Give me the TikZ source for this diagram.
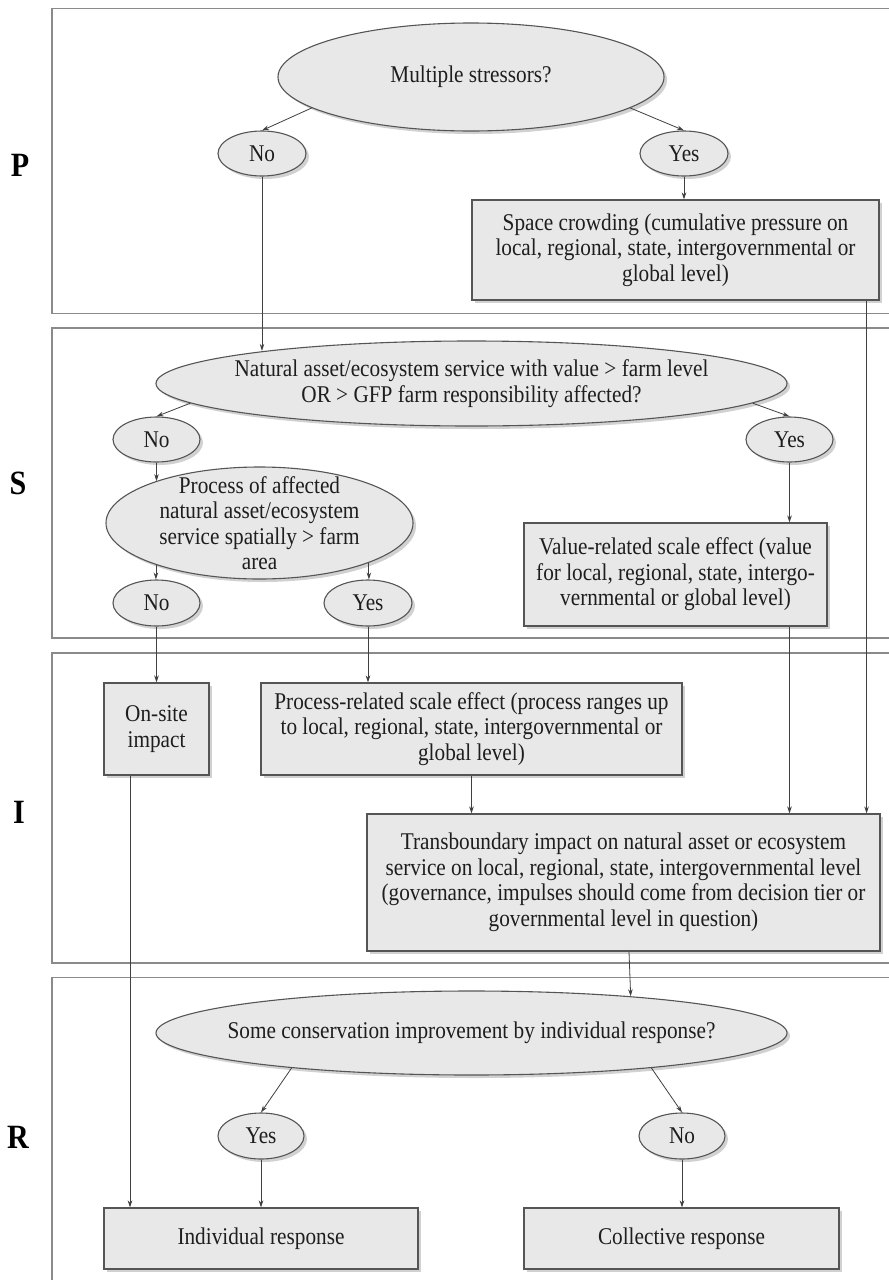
\documentclass[tikz,border=0pt]{standalone}
\usepackage{fontspec}
\setmainfont{Liberation Serif}[FakeStretch=0.885]
\usetikzlibrary{shapes.geometric,arrows.meta,shadows}
\definecolor{fillc}{HTML}{E8E8E8}
\definecolor{bordc}{HTML}{555555}
\definecolor{linec}{HTML}{404040}
\definecolor{panelc}{HTML}{8A8A8A}
\definecolor{textc}{HTML}{1E1E1E}
\newcommand\mainfs{\fontsize{24}{25.5}\selectfont}
\newcommand\labfs{\fontsize{34}{34}\selectfont\bfseries}
\begin{document}
\begin{tikzpicture}[x=1pt,y=-1pt,
  shad/.style={drop shadow={shadow xshift=3pt,shadow yshift=-3pt,opacity=0.18,fill=black}},
  ell/.style={ellipse, draw=bordc, line width=1.1pt, fill=fillc, inner xsep=-300pt, inner ysep=-100pt, font=\mainfs, align=center, text=textc, shad},
  box/.style={rectangle, draw=bordc, line width=1.1pt, fill=fillc, inner sep=2pt, font=\mainfs, align=center, text=textc, shad},
  conn/.style={draw=linec, line width=0.8pt, -{Stealth[length=7pt,width=4.5pt]}},
  panel/.style={draw=panelc, line width=1.3pt},
  lab/.style={font=\labfs, text=black}
]
\useasboundingbox (0,0) rectangle (889,1280);
\clip (0,0) rectangle (889,1280);
\fill[white] (0,0) rectangle (889,1280);

% panels
\draw[panel] (52,8.5) rectangle (905,313.5);
\draw[panel] (52,328) rectangle (905,638);
\draw[panel] (52,653) rectangle (905,963);
\draw[panel] (52,977.5) rectangle (905,1295);

% labels
\node[lab] (lP) at (20,165) {P};
\node[lab] (lS) at (18,483) {S};
\node[lab] (lI) at (19,812) {I};
\node[lab] (lR) at (18,1137) {R};

% P
\node[ell, minimum width=386pt, minimum height=108pt] (ms) at (471,77) {Multiple stressors?};
\node[ell, minimum width=88pt, minimum height=45pt] (pno) at (262,153.5) {No};
\node[ell, minimum width=88pt, minimum height=45pt] (pyes) at (684,153.5) {Yes};
\node[box, minimum width=407pt, minimum height=100pt] (space) at (675.5,250) {Space crowding (cumulative pressure on\\local, regional, state, intergovernmental or\\global level)};

% S
\node[ell, minimum width=631pt, minimum height=85pt] (sq) at (471.5,383.5) {Natural asset/ecosystem service with value > farm level\\OR > GFP farm responsibility affected?};
\node[ell, minimum width=87pt, minimum height=45pt] (sno) at (156.5,439.5) {No};
\node[ell, minimum width=87pt, minimum height=45pt] (syes) at (789.5,439.5) {Yes};
\node[ell, minimum width=307pt, minimum height=112pt] (proc) at (259.5,523) {Process of affected\\natural asset/ecosystem\\service spatially > farm\\area};
\node[ell, minimum width=87pt, minimum height=46pt] (sno2) at (156.5,603) {No};
\node[ell, minimum width=88pt, minimum height=46pt] (syes2) at (368,603) {Yes};
\node[box, minimum width=303pt, minimum height=103pt] (value) at (675.5,574.5) {Value-related scale effect (value\\for local, regional, state, intergo-\\vernmental or global level)};

% I
\node[box, minimum width=105pt, minimum height=92pt] (onsite) at (156.5,729) {On-site\\impact};
\node[box, minimum width=421pt, minimum height=92pt] (procbox) at (471.5,729) {Process-related scale effect (process ranges up\\to local, regional, state, intergovernmental or\\global level)};
\node[box, minimum width=513pt, minimum height=137pt] (trans) at (623.5,882.5) {Transboundary impact on natural asset or ecosystem\\service on local, regional, state, intergovernmental level\\(governance, impulses should come from decision tier or\\governmental level in question)};

% R
\node[ell, minimum width=631pt, minimum height=84pt] (rq) at (471.5,1033) {Some conservation improvement by individual response?};
\node[ell, minimum width=86pt, minimum height=46pt] (ryes) at (261,1136) {Yes};
\node[ell, minimum width=86pt, minimum height=46pt] (rno) at (682,1136) {No};
\node[box, minimum width=314pt, minimum height=61pt] (indiv) at (261,1238.5) {Individual response};
\node[box, minimum width=315pt, minimum height=61pt] (coll) at (681.5,1238.5) {Collective response};

% connectors
\draw[conn] (ms.191.4) -- (pno.north);
\draw[conn] (ms.-11) -- (pyes.north);
\draw[conn] (pyes.south) -- (pyes.south |- space.north);
\draw[conn] (pno.south) -- (pno.south |- sq.171.4);
\draw[conn] (sq.184) -- (sno.north);
\draw[conn] (sq.-4) -- (syes.north);
\draw[conn] (sno.south) -- (sno.south |- proc.158.2);
\draw[conn] (proc.-158.2) -- (proc.-158.2 |- sno2.north);
\draw[conn] (proc.-20.4) -- (proc.-20.4 |- syes2.north);
\draw[conn] (syes.south) -- (syes.south |- value.north);
\draw[conn] (sno2.south) -- (sno2.south |- onsite.north);
\draw[conn] (syes2.south) -- (syes2.south |- procbox.north);
\draw[conn] (procbox.south) -- (procbox.south |- trans.north);
\draw[conn] (value.south -| syes.south) -- (syes.south |- trans.north);
\draw[conn] ([xshift=-13pt]space.south east) -- ([xshift=-13pt]space.south east |- trans.north);
\draw[conn] ([xshift=5.5pt]trans.south) -- (rq.13);
\draw[conn] (rq.191.5) -- (ryes.north);
\draw[conn] (rq.-11.6) -- (rno.north);
\draw[conn] (ryes.south) -- (ryes.south |- indiv.north);
\draw[conn] (rno.south) -- (rno.south |- coll.north);
\draw[conn] ([xshift=-26.5pt]onsite.south) -- ([xshift=-26.5pt]onsite.south |- indiv.north);
\end{tikzpicture}
\end{document}
